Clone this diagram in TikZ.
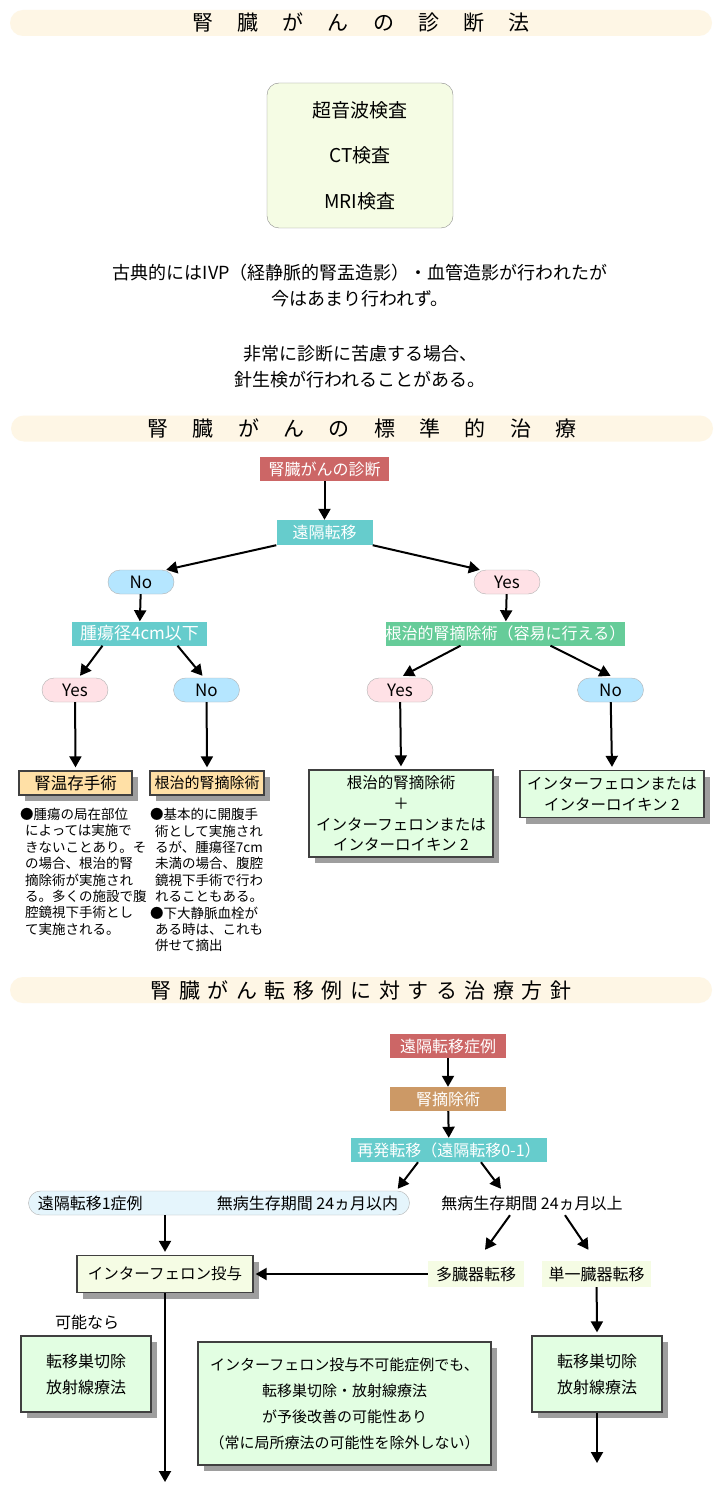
\documentclass[tikz,border=0pt]{standalone}
\usepackage{fontspec}
\setmainfont{Noto Sans CJK JP}
\usetikzlibrary{arrows.meta,shadows}

\definecolor{bandcol}{RGB}{254,246,229}
\definecolor{redcol}{RGB}{204,102,102}
\definecolor{tealcol}{RGB}{102,204,204}
\definecolor{greencol}{RGB}{102,204,153}
\definecolor{tancol}{RGB}{204,153,102}
\definecolor{bluecol}{RGB}{181,230,255}
\definecolor{pinkcol}{RGB}{255,225,230}
\definecolor{orangecol}{RGB}{255,224,166}
\definecolor{leafcol}{RGB}{226,254,226}
\definecolor{softcol}{RGB}{245,252,228}
\definecolor{earlycol}{RGB}{229,245,252}

\newcommand\fsz[2]{\fontsize{#1}{#2}\selectfont}

\tikzset{
  band/.style={fill=bandcol, rounded corners=13pt, minimum width=702pt,
      minimum height=26pt, inner sep=0pt, font=\fsz{21}{24}},
  flag/.style={fill=#1, text=white, minimum height=24pt, inner sep=0pt,
      font=\fsz{16}{19}},
  pill/.style={fill=#1, draw=black!30, rounded corners=12pt, minimum width=66pt,
      minimum height=24pt, inner sep=0pt, font=\fsz{17}{20}},
  result/.style={fill=#1, draw=black!75, line width=1.3pt, align=center,
      inner sep=0pt, drop shadow={shadow xshift=6pt, shadow yshift=-6pt,
      fill=black!38, opacity=1}},
  arr/.style={-{Triangle[length=11pt,width=12pt]}, line width=2pt},
}

\begin{document}
\begin{tikzpicture}[x=1pt, y=-1pt]
\useasboundingbox (0,0) rectangle (720,1511);
\fill[white] (0,0) rectangle (720,1511);

% --- diagnosis
\node[band] (title1) at (361,23) {\addfontfeature{LetterSpace=115}腎臓がんの診断法};
\node[fill=softcol, draw=black!45, rounded corners=12pt, minimum width=186pt,
    minimum height=145pt, align=center, font=\fsz{19}{45.5}] (exams) at (360,155.5)
    {超音波検査\\CT検査\\MRI検査};
\node[align=center, font=\fsz{18}{26}] (history) at (360,286)
    {古典的にはIVP（経静脈的腎盂造影）・血管造影が行われたが\\今はあまり行われず。};
\node[align=center, font=\fsz{18}{26}] (biopsy) at (360,367)
    {非常に診断に苦慮する場合、\\針生検が行われることがある。};

% --- standard treatment
\node[band] (title2) at (362,428.5) {\addfontfeature{LetterSpace=116}腎臓がんの標準的治療};
\node[flag=redcol, minimum width=129pt] (diag) at (324.5,469) {腎臓がんの診断};
\node[flag=tealcol, minimum width=96pt, minimum height=25pt] (meta) at (324.5,532.5) {遠隔転移};

\node[pill=bluecol] (no1) at (141,582) {No};
\node[pill=pinkcol] (yes1) at (507,582) {Yes};

\node[flag=tealcol, minimum width=135pt, font=\fsz{17}{20}] (size4) at (139.5,633.5) {腫瘍径4cm以下};
\node[flag=greencol, minimum width=239pt] (radical) at (505.5,633.5) {根治的腎摘除術（容易に行える）};

\node[pill=pinkcol] (yes2) at (75,690) {Yes};
\node[pill=bluecol] (no2) at (206.5,690) {No};
\node[pill=pinkcol] (yes3) at (400,690) {Yes};
\node[pill=bluecol] (no3) at (610.5,690) {No};

\node[result=orangecol, minimum width=113pt, minimum height=24pt, font=\fsz{16.5}{19}] (nss) at (75.5,783) {腎温存手術};
\node[result=orangecol, minimum width=114pt, minimum height=24pt, font=\fsz{15}{19}] (rn1) at (207,783) {根治的腎摘除術};
\node[result=leafcol, minimum width=184pt, minimum height=87pt, font=\fsz{15.5}{20.6}] (combo) at (401,813.5)
    {根治的腎摘除術\\＋\\インターフェロンまたは\\インターロイキン 2};
\node[result=leafcol, minimum width=184pt, minimum height=47pt, font=\fsz{15.5}{20.6}] (ifn1) at (612,794)
    {インターフェロンまたは\\インターロイキン 2};

\node[anchor=north west, align=left, inner sep=0pt, font=\fsz{13.5}{16.4}] (nssnote) at (25,808)
    {\hspace*{-5pt}●腫瘍の局在部位\\によっては実施で\\きないことあり。そ\\の場合、根治的腎\\摘除術が実施され\\る。多くの施設で腹\\腔鏡視下手術とし\\て実施される。};
\node[anchor=north west, align=left, inner sep=0pt, font=\fsz{13.5}{16.4}] (rnnote) at (155,808)
    {\hspace*{-5pt}●基本的に開腹手\\術として実施され\\るが、腫瘍径7cm\\未満の場合、腹腔\\鏡視下手術で行わ\\れることもある。\\\hspace*{-5pt}●下大静脈血栓が\\ある時は、これも\\併せて摘出};

\draw[arr] (diag) -- (meta);
\draw[arr] (meta.south west) -- ([xshift=-8pt]no1.north east);
\draw[arr] (meta.south east) -- ([xshift=6pt]yes1.north west);
\draw[arr] (no1) -- (size4);
\draw[arr] (yes1) -- (radical);
\draw[arr] ([xshift=-37pt]size4.south) -- ([xshift=5pt,yshift=2pt]yes2.north);
\draw[arr] ([xshift=38pt]size4.south) -- ([xshift=-4pt,yshift=2pt]no2.north);
\draw[arr] ([xshift=-45pt]radical.south) -- ([xshift=3pt,yshift=2pt]yes3.north);
\draw[arr] ([xshift=45pt]radical.south) -- ([yshift=2pt]no3.north);
\draw[arr] (yes2) -- ([yshift=3pt]nss.north);
\draw[arr] (no2) -- ([yshift=3pt]rn1.north);
\draw[arr] (yes3) -- ([yshift=3pt]combo.north);
\draw[arr] (no3) -- ([yshift=3pt]ifn1.north);

% --- metastasis policy
\node[band] (title3) at (361,990) {\addfontfeature{LetterSpace=36}腎臓がん転移例に対する治療方針};
\node[flag=redcol, minimum width=116pt] (case) at (448,1046) {遠隔転移症例};
\node[flag=tancol, minimum width=116pt] (nephrect) at (448,1099) {腎摘除術};
\node[flag=tealcol, minimum width=196pt] (recur) at (449,1150) {再発転移（遠隔転移0-1）};

\node[fill=earlycol, draw=black!30, rounded corners=12pt, minimum width=381pt,
    minimum height=24pt, inner sep=0pt] (early) at (219,1203) {};
\node[anchor=west, font=\fsz{16}{19}] (early1) at ([xshift=6pt]early.west) {遠隔転移1症例};
\node[anchor=east, font=\fsz{16}{19}] (early2) at ([xshift=-8pt]early.east) {無病生存期間 24ヵ月以内};
\node[minimum height=24pt, inner sep=0pt, font=\fsz{16}{19}] (late) at (532,1203) {無病生存期間 24ヵ月以上};

\node[result=softcol, minimum width=176pt, minimum height=37pt, font=\fsz{15.5}{19}] (ifnA) at (165,1274) {インターフェロン投与};
\node[fill=softcol, minimum width=96pt, minimum height=26pt, inner sep=0pt, font=\fsz{16}{19}] (multi) at (476,1274) {多臓器転移};
\node[fill=softcol, minimum width=109pt, minimum height=26pt, inner sep=0pt, font=\fsz{16}{19}] (single) at (596.5,1274) {単一臓器転移};

\node[font=\fsz{16}{19}] (ifpossible) at (87,1322) {可能なら};
\node[result=leafcol, minimum width=130pt, minimum height=76pt, font=\fsz{16}{26}] (excA) at (86,1374) {転移巣切除\\放射線療法};
\node[result=leafcol, minimum width=293pt, minimum height=123pt, font=\fsz{15}{26}] (remark) at (344.5,1403.5)
    {インターフェロン投与不可能症例でも、\\転移巣切除・放射線療法\\が予後改善の可能性あり\\（常に局所療法の可能性を除外しない）};
\node[result=leafcol, minimum width=130pt, minimum height=76pt, font=\fsz{16}{26}] (excB) at (597,1374) {転移巣切除\\放射線療法};

\coordinate (endA) at (165,1482);
\coordinate (endB) at (597,1463);

\draw[arr] (case) -- (nephrect);
\draw[arr] (nephrect) -- (recur);
\draw[arr] ([xshift=-31pt]recur.south) -- ([xshift=-12pt,yshift=2pt]early.north east);
\draw[arr] ([xshift=32pt]recur.south) -- ([xshift=-31pt,yshift=2pt]late.north);
\draw[arr] ([xshift=-22pt]late.south) -- ([xshift=9pt,yshift=11pt]multi.north);
\draw[arr] ([xshift=33pt]late.south) -- ([xshift=-8pt,yshift=11pt]single.north);
\draw[arr] (early.south -| ifnA.north) -- ([yshift=3pt]ifnA.north);
\draw[arr] (multi.west) -- ([xshift=2pt]ifnA.east);
\draw[arr] (single) -- ([yshift=3pt]excB.north);
\draw[arr] (ifnA) -- (endA);
\draw[arr] (excB) -- (endB);

\end{tikzpicture}
\end{document}
